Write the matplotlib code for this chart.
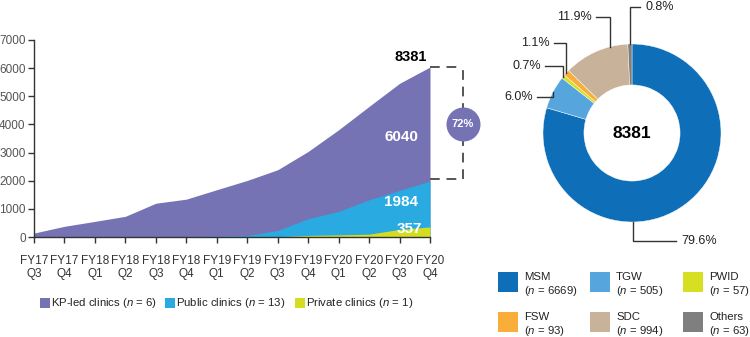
import numpy as np
import matplotlib
matplotlib.use("Agg")
import matplotlib.pyplot as plt
from matplotlib.patches import Rectangle

plt.rcParams['font.family'] = ['Liberation Sans', 'DejaVu Sans']
plt.rcParams['mathtext.fontset'] = 'custom'
plt.rcParams['mathtext.it'] = 'Liberation Sans:italic'
plt.rcParams['mathtext.rm'] = 'Liberation Sans'

# ---------------- data ----------------
quarters = ["FY17\nQ3", "FY17\nQ4", "FY18\nQ1", "FY18\nQ2", "FY18\nQ3", "FY18\nQ4", "FY19\nQ1",
            "FY19\nQ2", "FY19\nQ3", "FY19\nQ4", "FY20\nQ1", "FY20\nQ2", "FY20\nQ3", "FY20\nQ4"]
kp_led = [140, 380, 555, 735, 1200, 1345, 1680, 2010, 2390, 3040, 3810, 4640, 5460, 6040]
public = [0, 0, 0, 5, 10, 20, 30, 50, 230, 650, 910, 1320, 1655, 1984]
private = [0, 0, 0, 0, 0, 0, 0, 0, 10, 55, 75, 100, 270, 357]
series_names = ["KP-led clinics ($n$ = 6)", "Public clinics ($n$ = 13)", "Private clinics ($n$ = 1)"]
series_colors = ["#7673B5", "#29ABE2", "#D5DD23"]
total_label = "8381"
kp_share = "72%"

groups = ["MSM", "TGW", "PWID", "FSW", "SDC", "Others"]
group_n = [6669, 505, 57, 93, 994, 63]
group_colors = ["#0E6FB8", "#56A5DC", "#D7DF23", "#F9AE3B", "#C8B39A", "#7F7F7F"]
group_pct = ["79.6%", "6.0%", "0.7%", "1.1%", "11.9%", "0.8%"]

W, H = 750, 337
fig = plt.figure(figsize=(7.5, 3.37), dpi=100)

def fx(px):
    return px / W

def fy(py):
    return 1 - py / H

# ---------------- left area chart ----------------
ax = fig.add_axes([fx(34), fy(237), (430 - 34) / W, (237 - 40) / H])
x = np.arange(len(quarters))
for vals, col in zip([kp_led, public, private], series_colors):
    ax.fill_between(x, 0, vals, color=col, linewidth=0, zorder=2)
ax.set_xlim(0, len(quarters) - 1)
ax.set_ylim(0, 7000)
ax.set_yticks(np.arange(0, 7001, 1000))
ax.set_xticks(x)
ax.set_xticklabels(quarters, linespacing=1.15)
for s in ["top", "right"]:
    ax.spines[s].set_visible(False)
for s in ["left", "bottom"]:
    ax.spines[s].set_color("#333333")
    ax.spines[s].set_linewidth(1.0)
ax.tick_params(axis="y", length=4, width=1, pad=2, labelsize=8.5, colors="#333333", labelcolor="#555555")
ax.tick_params(axis="x", length=4, width=1, pad=9, labelsize=8.5, colors="#333333", labelcolor="#333333")

last = len(quarters) - 1
ax.text(last - 0.1, kp_led[-1] + 120, total_label, ha="right", va="bottom", fontsize=10.5,
        fontweight="bold", color="black")
ax.text(last - 0.95, 3550, str(kp_led[-1]), ha="center", va="center", fontsize=11,
        fontweight="bold", color="white", zorder=4)
ax.text(last - 0.95, 1250, str(public[-1]), ha="center", va="center", fontsize=11,
        fontweight="bold", color="white", zorder=4)
ax.text(last - 0.67, 290, str(private[-1]), ha="center", va="center", fontsize=11,
        fontweight="bold", color="white", zorder=4)

# bracket with circle
bx = last + 1.08
dash = (0, (5, 3.5))
ax.plot([last, bx], [kp_led[-1], kp_led[-1]], color="#555555", lw=1.4, ls=dash, clip_on=False)
ax.plot([last, bx], [public[-1] + 80, public[-1] + 80], color="#555555", lw=1.4, ls=dash, clip_on=False)
ax.plot([bx, bx], [public[-1] + 80, kp_led[-1]], color="#555555", lw=1.4, ls=dash, clip_on=False)
midy = (kp_led[-1] + public[-1]) / 2
ax.scatter([bx], [midy], s=600, color=series_colors[0], zorder=5, clip_on=False, linewidths=0)
ax.text(bx, midy, kp_share, ha="center", va="center", fontsize=8, fontweight="bold",
        color="white", zorder=6, clip_on=False)

# legend for area chart
leg_x = [40, 165, 295]
for lx, name, col in zip(leg_x, series_names, series_colors):
    fig.patches.append(Rectangle((fx(lx), fy(308)), 10 / W, 10 / H, transform=fig.transFigure,
                                 facecolor=col, edgecolor="none"))
    fig.text(fx(lx + 11), fy(303), name, ha="left", va="center", fontsize=8.2, color="#222222")

# ---------------- donut ----------------
cx, cy, R = 632, 133, 89
ax2 = fig.add_axes([fx(cx - R), fy(cy + R), 2 * R / W, 2 * R / H])
ax2.pie(group_n, colors=group_colors, startangle=90, counterclock=False,
        wedgeprops=dict(width=0.46, edgecolor="white", linewidth=0.3))
ax2.set_xlim(-1, 1)
ax2.set_ylim(-1, 1)
ax2.set_aspect("equal")
ax2.text(0, 0, total_label, ha="center", va="center", fontsize=12.5, fontweight="bold")

# overlay for leader lines (pixel coords)
ov = fig.add_axes([0, 0, 1, 1], zorder=10)
ov.set_xlim(0, W)
ov.set_ylim(H, 0)
ov.axis("off")

fracs = np.array(group_n) / np.sum(group_n)
ends = 90 - 360 * np.cumsum(fracs)
starts = ends + 360 * fracs
mids = (starts + ends) / 2
anchor_angles = list(mids)
anchor_angles[0] = -89.5
anchor_angles[4] = 104
# text position (px), alignment
label_pos = [(681, 241, "left"), (533, 97, "right"), (541, 66, "right"),
             (550, 43, "right"), (592, 17, "right"), (645, 7, "left")]
for ang, (tx, ty, ha), pct in zip(anchor_angles, label_pos, group_pct):
    a = np.deg2rad(ang)
    axp = cx + R * np.cos(a)
    ayp = cy - R * np.sin(a)
    endx = tx - 5 if ha == "left" else tx + 4
    ov.plot([axp, axp, endx], [ayp, ty, ty], color="#333333", lw=1.0, solid_joinstyle="miter")
    ov.text(tx, ty, pct, ha=ha, va="center", fontsize=9, color="#222222")

# donut legend
col_x = [498, 590, 683]
row_y = [272, 312]
for i, (g, n, c) in enumerate(zip(groups, group_n, group_colors)):
    lx = col_x[i % 3]
    ly = row_y[i // 3]
    ov.add_patch(Rectangle((lx, ly), 20, 20, facecolor=c, edgecolor="none"))
    ov.text(lx + 26, ly + 5, g, ha="left", va="center", fontsize=8.2, color="#222222")
    ov.text(lx + 26, ly + 19, f"($n$ = {n})", ha="left", va="center", fontsize=8.2, color="#222222")

fig.savefig("out.png", dpi=100)
